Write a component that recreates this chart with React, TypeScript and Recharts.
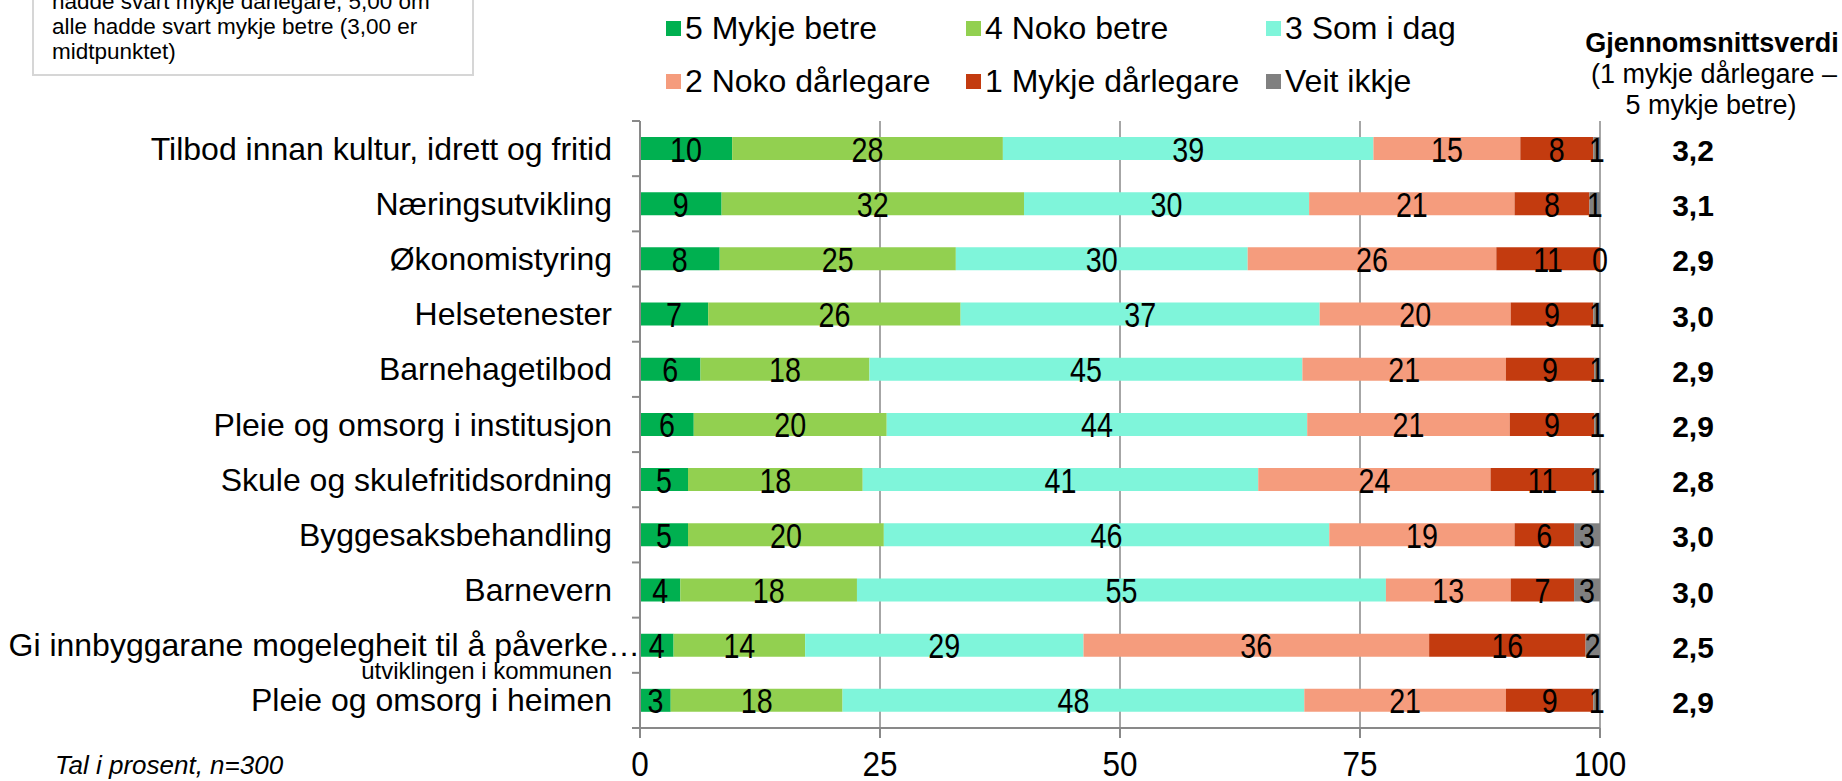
import React from 'react';
import { BarChart, Bar, XAxis, YAxis, CartesianGrid, Legend, LabelList } from 'recharts';

const FONT = '"Liberation Sans", Arial, sans-serif';
const AXIS_GREY = '#898989';

const categories = [
    'Tilbod innan kultur, idrett og fritid',
    'Næringsutvikling',
    'Økonomistyring',
    'Helsetenester',
    'Barnehagetilbod',
    'Pleie og omsorg i institusjon',
    'Skule og skulefritidsordning',
    'Byggesaksbehandling',
    'Barnevern',
    'Gi innbyggarane mogelegheit til å påverke utviklingen i kommunen',
    'Pleie og omsorg i heimen',
];

// percent per answer
const mykjeBetre = [9.6, 8.5, 8.3, 7.1, 6.3, 5.6, 5.0, 5.0, 4.2, 3.5, 3.2];
const nokoBetre = [28.2, 31.5, 24.6, 26.3, 17.6, 20.1, 18.2, 20.4, 18.4, 13.7, 17.9];
const somIDag = [38.6, 29.7, 30.4, 37.4, 45.1, 43.8, 41.2, 46.4, 55.1, 29.0, 48.1];
const nokoDarlegare = [15.3, 21.4, 25.9, 19.9, 21.2, 21.1, 24.2, 19.3, 13.0, 36.0, 21.0];
const mykjeDarlegare = [7.6, 7.8, 10.8, 8.6, 9.2, 8.8, 10.8, 6.2, 6.6, 16.3, 9.1];
const veitIkkje = [0.7, 1.1, 0, 0.7, 0.6, 0.6, 0.6, 2.7, 2.7, 1.5, 0.7];

const averages = [3.2, 3.1, 2.9, 3.0, 2.9, 2.9, 2.8, 3.0, 3.0, 2.5, 2.9];

const xTicks = [0, 25, 50, 75, 100];

const SERIES = [
    { key: 'mykjeBetre', name: '5 Mykje betre', color: '#00B050' },
    { key: 'nokoBetre', name: '4 Noko betre', color: '#92D050' },
    { key: 'somIDag', name: '3 Som i dag', color: '#7FF5DA' },
    { key: 'nokoDarlegare', name: '2 Noko dårlegare', color: '#F59C7D' },
    { key: 'mykjeDarlegare', name: '1 Mykje dårlegare', color: '#C33B0F' },
    { key: 'veitIkkje', name: 'Veit ikkje', color: '#808080' },
];

const data = categories.map((name, i) => ({
    name,
    mykjeBetre: mykjeBetre[i],
    nokoBetre: nokoBetre[i],
    somIDag: somIDag[i],
    nokoDarlegare: nokoDarlegare[i],
    mykjeDarlegare: mykjeDarlegare[i],
    veitIkkje: veitIkkje[i],
    avg: averages[i],
}));

const W = 1842;
const H = 781;
const MARGIN = { top: 121, right: 0, bottom: 0, left: 0 };
const X_AXIS_H = 53;
const BAND = (H - MARGIN.top - MARGIN.bottom - X_AXIS_H) / categories.length;

// narrow-looking numbers like the original export
const NarrowText: React.FC<any> = ({ x, y, size, sx, children }) => (
    <text
        transform={`translate(${x},${y}) scale(${sx},1)`}
        textAnchor="middle"
        dominantBaseline="central"
        fontSize={size}
        fill="#000"
    >
        {children}
    </text>
);

const CategoryTick: React.FC<any> = ({ x, y, payload, index }) => {
    const label: string = payload.value;
    const cut = label.indexOf(' utviklingen');
    return (
        <g>
            <line x1={x - 8} x2={x} y1={y - BAND / 2} y2={y - BAND / 2} stroke={AXIS_GREY} strokeWidth={2} />
            {index === categories.length - 1 && (
                <line x1={x - 8} x2={x} y1={y + BAND / 2} y2={y + BAND / 2} stroke={AXIS_GREY} strokeWidth={2} />
            )}
            {cut > 0 ? (
                <>
                    <text x={x} y={y} textAnchor="end" dominantBaseline="central" fontSize={32} fill="#000">
                        {label.slice(0, cut) + '…'}
                    </text>
                    <text x={x - 28} y={y + 25} textAnchor="end" dominantBaseline="central" fontSize={24} fill="#000">
                        {label.slice(cut + 1)}
                    </text>
                </>
            ) : (
                <text x={x - 28} y={y} textAnchor="end" dominantBaseline="central" fontSize={32} fill="#000">
                    {label}
                </text>
            )}
        </g>
    );
};

const AverageTick: React.FC<any> = ({ x, y, index }) => (
    <text x={x + 93} y={y + 2} textAnchor="middle" dominantBaseline="central" fontSize={30} fontWeight="bold" fill="#000">
        {averages[index].toFixed(1).replace('.', ',')}
    </text>
);

const PercentTick: React.FC<any> = ({ x, y, payload }) => (
    <NarrowText x={x} y={y + 24} size={35} sx={0.9}>
        {payload.value}
    </NarrowText>
);

const SegmentLabel: React.FC<any> = (props) => {
    const vb = props.viewBox || props;
    const { x, y, width, height } = vb;
    const { value, index, dataKey } = props;
    if (value == null) return null;
    const cy = y + height / 2 + 1;
    // a zero share after this segment gets no rectangle of its own, so print its label at the bar end
    const next = SERIES.findIndex((s) => s.key === dataKey) + 1;
    const nextVal = next < SERIES.length ? (data[index] as any)[SERIES[next].key] : null;
    return (
        <g>
            <NarrowText x={x + width / 2} y={cy} size={35} sx={0.82}>
                {Math.round(value)}
            </NarrowText>
            {nextVal === 0 && (
                <NarrowText x={x + width} y={cy} size={35} sx={0.82}>
                    0
                </NarrowText>
            )}
        </g>
    );
};

const LegendBlock: React.FC<any> = ({ payload }) => {
    const items = [...(payload || [])].sort(
        (a: any, b: any) =>
            SERIES.findIndex((s) => s.name === a.value) - SERIES.findIndex((s) => s.name === b.value)
    );
    return (
        <div style={{ position: 'relative', width: W, height: 110, fontFamily: FONT }}>
            {items.map((item: any, i: number) => {
                const col = i % 3;
                const row = Math.floor(i / 3);
                return (
                    <div
                        key={item.value}
                        style={{
                            position: 'absolute',
                            left: 666 + col * 300,
                            top: 28 + row * 53 - 18,
                            height: 36,
                            display: 'flex',
                            alignItems: 'center',
                            whiteSpace: 'nowrap',
                            fontSize: 32,
                            color: '#000',
                        }}
                    >
                        <span style={{ display: 'inline-block', width: 15, height: 15, background: item.color, marginRight: 4 }} />
                        {item.value}
                    </div>
                );
            })}
        </div>
    );
};

const App: React.FC = () => {
    return (
        <div style={{ position: 'absolute', left: 0, top: 0, width: W, height: H, background: '#fff', fontFamily: FONT }}>
            <svg width={W} height={H} style={{ position: 'absolute', left: 0, top: 0 }}>
                <rect x={33} y={-10} width={440} height={85} fill="#fff" stroke="#d6d6d6" strokeWidth={2} />
                <g fontSize={22.5} fill="#000" fontFamily={FONT}>
                    <text x={52} y={9}>hadde svart mykje dårlegare, 5,00 om</text>
                    <text x={52} y={34}>alle hadde svart mykje betre (3,00 er</text>
                    <text x={52} y={59}>midtpunktet)</text>
                </g>
                <g textAnchor="middle" fill="#000" fontFamily={FONT}>
                    <text x={1712} y={52} fontSize={27} fontWeight="bold">Gjennomsnittsverdi</text>
                    <text x={1714} y={83} fontSize={27}>(1 mykje dårlegare –</text>
                    <text x={1711} y={114} fontSize={27}>5 mykje betre)</text>
                </g>
                <text x={55} y={774} fontSize={26} fontStyle="italic" fill="#000" fontFamily={FONT}>
                    Tal i prosent, n=300
                </text>
            </svg>
            <div style={{ position: 'absolute', left: 0, top: 0 }}>
                <BarChart width={W} height={H} data={data} layout="vertical" margin={MARGIN} barSize={23} style={{ fontFamily: FONT }}>
                    <CartesianGrid horizontal={false} stroke={AXIS_GREY} strokeWidth={1.5} />
                    <XAxis
                        type="number"
                        domain={[0, 100]}
                        ticks={xTicks}
                        allowDataOverflow
                        height={X_AXIS_H}
                        axisLine={{ stroke: AXIS_GREY, strokeWidth: 2 }}
                        tickLine={{ stroke: AXIS_GREY, strokeWidth: 2 }}
                        tickSize={10}
                        tick={<PercentTick />}
                    />
                    <YAxis
                        yAxisId="left"
                        type="category"
                        dataKey="name"
                        width={640}
                        axisLine={{ stroke: AXIS_GREY, strokeWidth: 2 }}
                        tickLine={false}
                        tickSize={0}
                        tickMargin={0}
                        interval={0}
                        tick={<CategoryTick />}
                    />
                    <YAxis
                        yAxisId="right"
                        orientation="right"
                        type="category"
                        dataKey="name"
                        width={242}
                        axisLine={false}
                        tickLine={false}
                        tickSize={0}
                        tickMargin={0}
                        interval={0}
                        tick={<AverageTick />}
                    />
                    <Legend
                        layout="horizontal"
                        verticalAlign="middle"
                        align="center"
                        wrapperStyle={{ left: 0, top: 0, width: W }}
                        content={<LegendBlock />}
                    />
                    {SERIES.map((s) => (
                        <Bar key={s.key} yAxisId="left" dataKey={s.key} name={s.name} stackId="a" fill={s.color} isAnimationActive={false}>
                            <LabelList dataKey={s.key} content={<SegmentLabel dataKey={s.key} />} />
                        </Bar>
                    ))}
                </BarChart>
            </div>
        </div>
    );
};

export default App;
